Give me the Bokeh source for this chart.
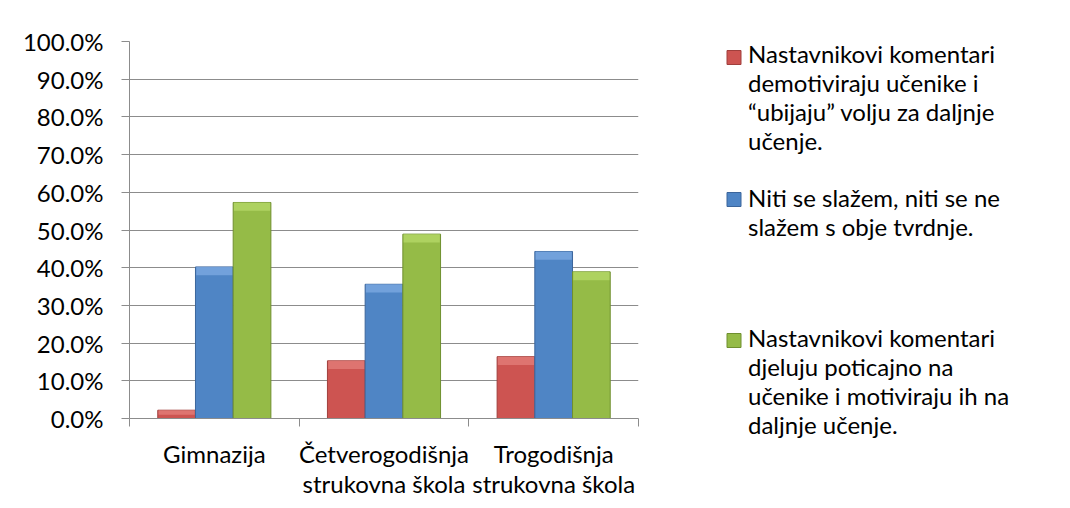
from bokeh.plotting import figure
from bokeh.layouts import row
from bokeh.models import Range1d, FixedTicker, NumeralTickFormatter, Legend, LegendItem, ColumnDataSource
from bokeh.embed import file_html
from bokeh.resources import INLINE

# ---- data ----
categories = ["Gimnazija", "Četverogodišnja\nstrukovna škola", "Trogodišnja\nstrukovna škola"]
series_labels = [
    "Nastavnikovi komentari\ndemotiviraju učenike i\n“ubijaju” volju za daljnje\nučenje.",
    "Niti se slažem, niti se ne\nslažem s obje tvrdnje.",
    "Nastavnikovi komentari\ndjeluju poticajno na\nučenike i motiviraju ih na\ndaljnje učenje.",
]
demotiviraju = [0.022, 0.153, 0.164]
neutralno = [0.402, 0.356, 0.443]
poticajno = [0.573, 0.489, 0.389]
y_ticks = [0.0, 0.1, 0.2, 0.3, 0.4, 0.5, 0.6, 0.7, 0.8, 0.9, 1.0]

# ---- style ----
FONT = "Lato"
FS = "24px"
fills = ["#CD5451", "#4F85C5", "#95BB47"]
tops = ["#E07A76", "#78A6DE", "#B3D665"]
edges = ["#A03F3C", "#3B659B", "#6F8F2F"]
grid_col = "#8C8C8C"
H = 500
TOP = 41
LEFT, FW, RGAP = 129, 509, 40

p = figure(
    frame_width=FW, frame_height=377,
    min_border_left=LEFT, min_border_right=RGAP, min_border_top=TOP, min_border_bottom=H - TOP - 377,
    x_range=Range1d(0, len(categories)), y_range=Range1d(0, 1.0),
    output_backend="svg", toolbar_location=None, tools="",
    background_fill_color="white", border_fill_color="white",
)
p.outline_line_color = None

n_series = 3
bw = 1.0 / 4.5
bevel = 0.022
centers = [i + 0.5 for i in range(len(categories))]
series = [demotiviraju, neutralno, poticajno]
sources = []
for k, vals in enumerate(series):
    xs = [c + (k - 1) * bw for c in centers]
    src = ColumnDataSource(dict(x=xs, top=vals,
                                btop=[max(v - bevel, v * 0.45) for v in vals]))
    sources.append(src)
    p.vbar(x="x", top="top", bottom=0, width=bw, source=src,
           fill_color=fills[k], line_color=edges[k], line_width=1)
    # lighter bevel strip at the top of each bar
    p.vbar(x="x", top="top", bottom="btop", width=bw * 0.96, source=src,
           fill_color=tops[k], line_color=None, fill_alpha=0.85)

# axes
yax = p.yaxis[0]
yax.ticker = FixedTicker(ticks=y_ticks)
yax.formatter = NumeralTickFormatter(format="0.0%")
yax.major_label_text_font = FONT
yax.major_label_text_font_size = FS
yax.major_label_text_color = "#000000"
yax.axis_line_color = grid_col
yax.major_tick_line_color = grid_col
yax.major_tick_out = 8
yax.major_tick_in = 0
yax.minor_tick_line_color = None
yax.major_label_standoff = 18

xax = p.xaxis[0]
xax.ticker = FixedTicker(ticks=centers, minor_ticks=list(range(len(categories) + 1)))
xax.major_label_overrides = {c: lab for c, lab in zip(centers, categories)}
xax.major_label_text_font = FONT
xax.major_label_text_font_size = FS
xax.major_label_text_color = "#000000"
xax.major_label_text_line_height = 1.05
xax.axis_line_color = grid_col
xax.major_tick_line_color = None
xax.major_tick_out = 0
xax.major_tick_in = 0
xax.minor_tick_line_color = grid_col
xax.minor_tick_out = 8
xax.minor_tick_in = 0
xax.major_label_standoff = 12

p.xgrid.visible = False
p.ygrid.ticker = FixedTicker(ticks=y_ticks)
p.ygrid.grid_line_color = grid_col
p.ygrid.grid_line_width = 1

# ---- legend panel: separate figure in pixel units so entries are not clipped ----
X0 = LEFT + FW + RGAP
W2 = 1062 - X0
q = figure(frame_width=W2, frame_height=H, min_border=0,
           x_range=Range1d(0, W2), y_range=Range1d(0, H),
           output_backend="svg", toolbar_location=None, tools="",
           background_fill_color="white", border_fill_color="white")
q.axis.visible = False
q.grid.visible = False
q.outline_line_color = None

# legend renderers (transparent; the key squares are drawn level with each entry's first line)
key_renderers = []
for k in range(n_series):
    kr = q.vbar(x="x", top="top", width=bw, source=sources[k],
                fill_alpha=0, line_alpha=0)
    key_renderers.append(kr)

key_left = 726
first_line_y = [57, 199, 340]          # page y of each entry's first text line
leg_bottom = [155, 241, 439]           # page y of each legend block's bottom edge
for k in range(n_series):
    lg = Legend(items=[LegendItem(label=series_labels[k], renderers=[key_renderers[k]])],
                location=(key_left - X0, H - leg_bottom[k]), orientation="vertical")
    lg.padding = 0
    lg.margin = 0
    lg.border_line_color = None
    lg.background_fill_alpha = 0
    lg.glyph_width = 15
    lg.glyph_height = 15
    lg.label_standoff = 7
    lg.label_text_font = FONT
    lg.label_text_font_size = FS
    lg.label_text_color = "#000000"
    lg.label_text_line_height = 1.3
    q.add_layout(lg, "center")

# the row aligns this panel's frame top with the chart frame top (TOP px down the page)
q.scatter(x=[key_left - X0 + 7.5] * n_series, y=[H + TOP - v for v in first_line_y],
          marker="square", size=14, fill_color=fills, line_color=edges, line_width=1)

layout = row(p, q)
open("out.html", "w").write(file_html(layout, INLINE))
